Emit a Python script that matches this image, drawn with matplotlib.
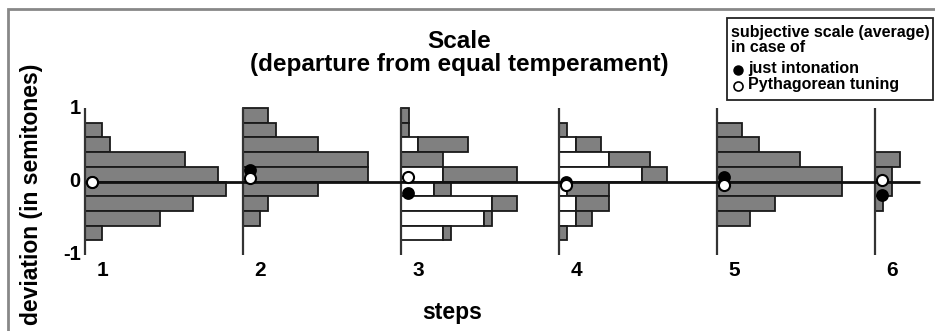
import matplotlib
matplotlib.use('Agg')
import matplotlib.pyplot as plt
from matplotlib.patches import Rectangle

# histogram bins (semitones), top to bottom
bin_centers = [0.9, 0.7, 0.5, 0.3, 0.1, -0.1, -0.3, -0.5, -0.7, -0.9]
bin_height = 0.2

steps = [1, 2, 3, 4, 5, 6]

# counts per bin: white part first, gray part stacked after it
white_counts = [
    [0, 0, 0, 0, 0, 0, 0, 0, 0, 0],
    [0, 0, 0, 0, 0, 0, 0, 0, 0, 0],
    [0, 0, 2, 0, 5, 4, 11, 10, 5, 0],
    [0, 0, 2, 6, 10, 1, 2, 2, 0, 0],
    [0, 0, 0, 0, 0, 0, 0, 0, 0, 0],
    [0, 0, 0, 0, 0, 0, 0, 0, 0, 0],
]
gray_counts = [
    [0, 2, 3, 12, 16, 17, 13, 9, 2, 0],
    [3, 4, 9, 15, 15, 9, 3, 2, 0, 0],
    [1, 1, 6, 5, 9, 2, 3, 1, 1, 0],
    [0, 1, 3, 5, 3, 5, 4, 2, 1, 0],
    [0, 3, 5, 10, 15, 15, 7, 4, 0, 0],
    [0, 0, 0, 3, 2, 2, 1, 0, 0, 0],
]

# subjective scale averages
just_avg = [0.0, 0.16, -0.16, 0.0, 0.06, -0.18]
pyth_avg = [0.0, 0.045, 0.06, -0.045, -0.05, 0.02]

spacing = 19  # gap between steps, in count units

W, H = 935, 331
plt.rcParams['font.family'] = ['Liberation Sans', 'DejaVu Sans']
plt.rcParams['font.weight'] = 'bold'


def fx(p):
    return p / W


def fy(p):
    return 1 - p / H


fig = plt.figure(figsize=(W / 100, H / 100), dpi=100)
ax = fig.add_axes([0, 0, 1, 1])
ax.set_xlim(-85 / 8.316, 850 / 8.316)
ax.set_ylim((181.5 - H) / 73.5, 181.5 / 73.5)
ax.axis('off')

edge = '#1a1a1a'
for i, step in enumerate(steps):
    x0 = (step - 1) * spacing
    for y, w, g in zip(bin_centers, white_counts[i], gray_counts[i]):
        if w > 0:
            ax.barh(y, w, height=bin_height, left=x0, color='white',
                    edgecolor=edge, linewidth=1.3, zorder=2)
        if g > 0:
            ax.barh(y, g, height=bin_height, left=x0 + w, color='#808080',
                    edgecolor=edge, linewidth=1.3, zorder=2)
    ax.vlines(x0, -1, 1, color='#333333', linewidth=1.6, zorder=3)
    ax.text(x0 + 2.05, -1.21, str(step), ha='center', va='center', fontsize=15)

ax.hlines(0, 0, 100.4, color='#111111', linewidth=2, zorder=3)

xs = [(s - 1) * spacing + 0.8 for s in steps]
ax.plot(xs, just_avg, 'o', ms=8, mfc='black', mec='black', mew=1.2, zorder=4, ls='none')
ax.plot(xs, pyth_avg, 'o', ms=8, mfc='white', mec='black', mew=1.5, zorder=5, ls='none')

for v, lab in [(1, '1'), (0, '0'), (-1, '-1')]:
    ax.text(-0.5, v, lab, ha='right', va='center', fontsize=14.5)

# outer frame
fig.patches.append(Rectangle((fx(8), fy(H + 10)), fx(W + 10), fy(9) - fy(H + 10),
                             transform=fig.transFigure, fill=False,
                             edgecolor='#888888', linewidth=2))

fig.text(fx(459), fy(53), 'Scale\n(departure from equal temperament)',
         ha='center', va='center', fontsize=17.5, linespacing=1.05)
fig.text(fx(32), fy(194), 'deviation (in semitones)', rotation=90,
         ha='center', va='center', fontsize=16.5)
fig.text(fx(452), fy(313), 'steps', ha='center', va='center', fontsize=16.5)

# legend box
fig.patches.append(Rectangle((fx(727), fy(100)), fx(933) - fx(727), fy(18) - fy(100),
                             transform=fig.transFigure, fill=False,
                             edgecolor='#222222', linewidth=1.3))
fig.text(fx(731), fy(33), 'subjective scale (average)', ha='left', va='center', fontsize=11.5)
fig.text(fx(731), fy(48), 'in case of', ha='left', va='center', fontsize=11.5)
fig.text(fx(748), fy(69), 'just intonation', ha='left', va='center', fontsize=11.5)
fig.text(fx(748), fy(85), 'Pythagorean tuning', ha='left', va='center', fontsize=11.5)
fig.lines.append(plt.Line2D([fx(738)], [fy(70)], marker='o', ms=6.5, mfc='black',
                            mec='black', transform=fig.transFigure))
fig.lines.append(plt.Line2D([fx(738)], [fy(86)], marker='o', ms=6.5, mfc='white',
                            mec='black', mew=1.2, transform=fig.transFigure))

fig.savefig('out.png', dpi=100)
